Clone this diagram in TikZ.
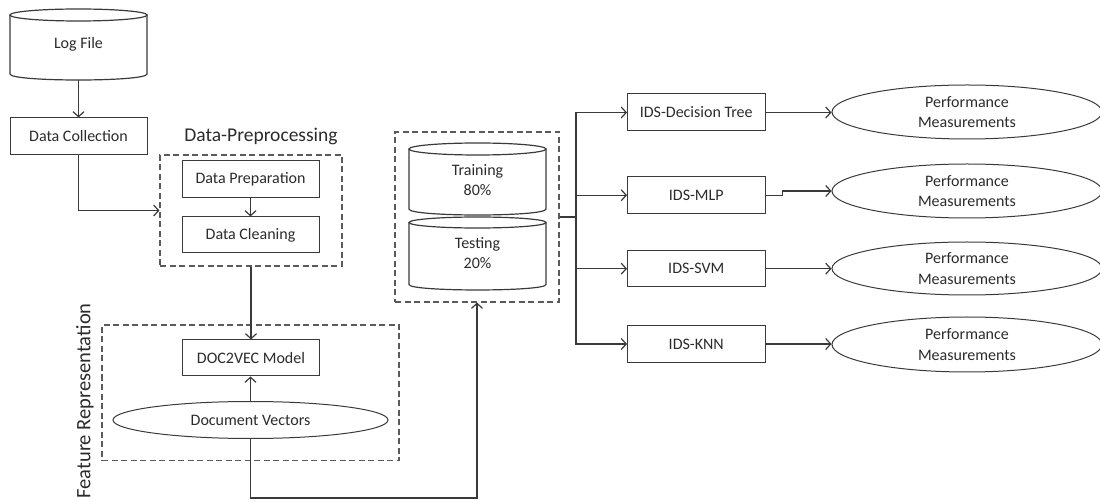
\documentclass[tikz,border=0pt]{standalone}
\usepackage{fontspec}
\setmainfont{Carlito}
\usetikzlibrary{arrows.meta,shapes.geometric}
\definecolor{ink}{HTML}{2B2B2B}
\definecolor{edge}{HTML}{3A3A3A}
\definecolor{dashc}{HTML}{5A5A5A}
\begin{document}
\begin{tikzpicture}[x=1pt,y=-1pt,
  every node/.style={text=ink, font=\fontsize{16}{20.5}\selectfont, inner sep=0pt},
  box/.style={draw=edge, line width=1pt, minimum width=137pt, minimum height=37pt},
  group/.style={draw=dashc, line width=1.1pt, dash pattern=on 6pt off 3.5pt},
  oval/.style={ellipse, draw=edge, line width=1pt},
  conn/.style={draw=edge, line width=1.2pt},
  arr/.style={conn, -{Straight Barb[length=5pt,width=11pt]}},
]
\useasboundingbox (0,0) rectangle (1100,502);

% Log File cylinder
\draw[conn] (10,15) -- (10,74) .. controls (10,82) and (147,82) .. (147,74) -- (147,15);
\draw[conn] (78.5,15) ellipse [x radius=68.5pt, y radius=6pt];
\node[minimum width=137pt, minimum height=71pt] (log) at (78.5,44.5) {Log File};

\node[box] (dc) at (78.5,136.5) {Data Collection};

% Data-Preprocessing group
\node[group, minimum width=182pt, minimum height=111pt] (prepbox) at (251,210.5) {};
\node[font=\fontsize{19.5}{22}\selectfont, anchor=base] (pretitle) at (261,142) {Data-Preprocessing};
\node[box] (prep) at (250.5,179.5) {Data Preparation};
\node[box, minimum height=36pt] (clean) at (250.5,235) {Data Cleaning};

% Feature Representation group
\node[group, minimum width=297pt, minimum height=135.5pt] (featbox) at (250.5,392.75) {};
\node[box, minimum width=137.5pt, minimum height=36pt] (d2v) at (251,358) {DOC2VEC Model};
\node[oval, minimum width=275pt, minimum height=37pt] (docvec) at (250.5,420) {Document Vectors};
\node[rotate=90, font=\fontsize{20.5}{24}\selectfont] (feattitle) at (85,401) {Feature Representation};

% Train / test split
\node[group, minimum width=164pt, minimum height=170pt] (splitbox) at (477,217) {};
\draw[conn] (409,149) -- (409,209) .. controls (409,217) and (546,217) .. (546,209) -- (546,149);
\draw[conn] (477.5,149) ellipse [x radius=68.5pt, y radius=6pt];
\node[align=center] (train) at (477.5,180) {Training\\80\%};
\draw[conn] (409,222.5) -- (409,284.5) .. controls (409,291.8) and (546,291.8) .. (546,284.5) -- (546,222.5);
\draw[conn] (477.5,222.5) ellipse [x radius=68.5pt, y radius=5.5pt];
\node[align=center] (test) at (477.5,253) {Testing\\20\%};

% Classifiers
\node[box, minimum width=137.5pt] (dt) at (696.25,112.5) {IDS-Decision Tree};
\node[box, minimum width=137.5pt, minimum height=36.5pt] (mlp) at (696.25,195.25) {IDS-MLP};
\node[box, minimum width=137.5pt, minimum height=36pt] (svm) at (696.25,268.7) {IDS-SVM};
\node[box, minimum width=137.5pt, minimum height=37.5pt] (knn) at (696.25,344) {IDS-KNN};

% Performance ellipses
\node[oval, minimum width=270pt, minimum height=54pt, align=center] (pm1) at (967,112) {Performance\\Measurements};
\node[oval, minimum width=270pt, minimum height=54pt, align=center] (pm2) at (967,191) {Performance\\Measurements};
\node[oval, minimum width=270pt, minimum height=53pt, align=center] (pm3) at (967,268.5) {Performance\\Measurements};
\node[oval, minimum width=270pt, minimum height=55pt, align=center] (pm4) at (967,344.5) {Performance\\Measurements};

% Connectors, left part
\draw[arr] (log.south) -- (dc.north);
\draw[arr] (dc.south) |- (prepbox.west);
\draw[arr] (prep.south) -- (clean.north);
\draw[arr] (prepbox.south) -- (d2v.north);
\draw[arr] (docvec.north) -- (docvec.north |- d2v.south);
\coordinate (route) at (477,498);
\draw[arr] (docvec.south) |- (route) -- (splitbox.south);

% Trunk to classifiers
\coordinate (trunk) at (576,217);
\draw[conn] (splitbox.east) -- (trunk);
\draw[arr] (trunk) |- (dt.west);
\draw[arr] (trunk) |- (mlp.west);
\draw[arr] (trunk) |- (svm.west);
\draw[arr] (trunk) |- (knn.west);

% Classifiers to measurements
\draw[arr] (dt.east) -- (dt.east -| pm1.west);
\draw[arr] (mlp.east) -- ++(17,0) |- (pm2.west);
\draw[arr] (svm.east) -- (svm.east -| pm3.west);
\draw[arr] (knn.east) -- (knn.east -| pm4.west);
\end{tikzpicture}
\end{document}
